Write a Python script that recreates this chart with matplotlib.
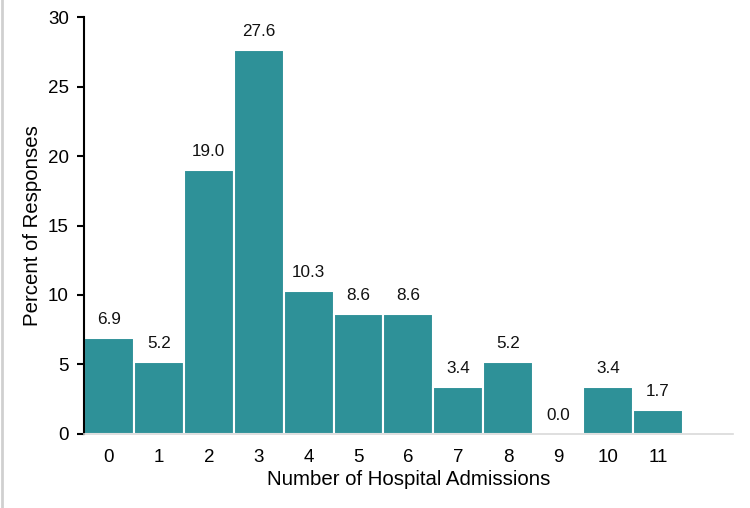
import matplotlib
matplotlib.use("Agg")
import matplotlib.pyplot as plt
from matplotlib.lines import Line2D

admissions = ["0", "1", "2", "3", "4", "5", "6", "7", "8", "9", "10", "11"]
percent = [6.9, 5.2, 19.0, 27.6, 10.3, 8.6, 8.6, 3.4, 5.2, 0.0, 3.4, 1.7]

plt.rcParams['font.family'] = ['Liberation Sans', 'DejaVu Sans']

fig = plt.figure(figsize=(7.5, 5.08), dpi=100)
ax = fig.add_axes([0.112, 0.1457, 0.865, 0.8208])

x = list(range(len(admissions)))
ax.bar(x, percent, width=1.0, color='#2E9198', edgecolor='white', linewidth=1.5, zorder=2)

for xi, v in zip(x, percent):
    ax.text(xi, v + 0.8, f"{v:.1f}", ha='center', va='bottom', fontsize=12.3, color='#111111')

ax.set_xlim(-0.5, 12.5)
ax.set_ylim(0, 30)
ax.set_yticks([0, 5, 10, 15, 20, 25, 30])
ax.set_xticks(x)
ax.set_xticklabels(admissions)

ax.spines['top'].set_visible(False)
ax.spines['right'].set_visible(False)
ax.spines['left'].set_color('black')
ax.spines['left'].set_linewidth(1.5)
ax.spines['bottom'].set_color('#d9d9d9')
ax.spines['bottom'].set_linewidth(1.2)

ax.tick_params(axis='y', length=5, width=1.5, labelsize=13.5, pad=6)
ax.tick_params(axis='x', length=0, labelsize=13.5, pad=11)

ax.set_xlabel("Number of Hospital Admissions", fontsize=14.7, labelpad=3)
ax.set_ylabel("Percent of Responses", fontsize=14.7, labelpad=4)

fig.add_artist(Line2D([0.002, 0.002], [0, 1], color='#d0d0d0', linewidth=2, transform=fig.transFigure))

fig.savefig("out.png", dpi=100)
